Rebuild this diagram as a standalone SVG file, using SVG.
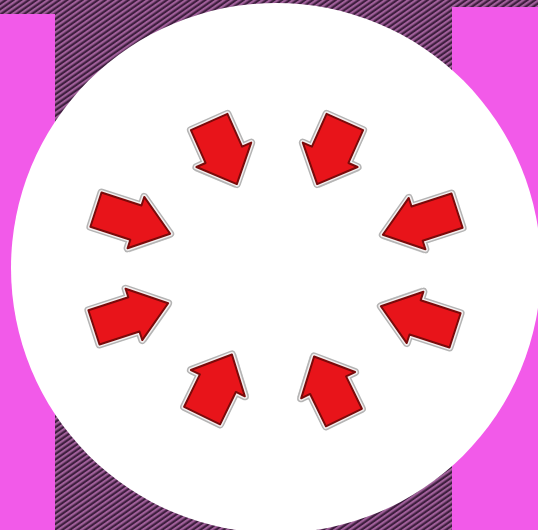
<svg xmlns="http://www.w3.org/2000/svg" xmlns:xlink="http://www.w3.org/1999/xlink" width="538" height="530" viewBox="0 0 538 530">
  <style>
    .pink { fill: #f25ae9; }
    .shadow { fill: #9a9a9a; opacity: 0.45; }
    .bevel { stroke: #b4b4b4; fill: #b4b4b4; stroke-width: 8; stroke-linejoin: round; }
    .rim { stroke: #f4f0f0; fill: #f4f0f0; stroke-width: 5; stroke-linejoin: round; }
    .body { fill: #e8141a; stroke: #7a0a0a; stroke-width: 2; stroke-linejoin: round; }
  </style>
  <defs>
    <pattern id="stripes" width="4.4" height="10" patternUnits="userSpaceOnUse" patternTransform="rotate(55)">
      <rect width="4.4" height="10" fill="#3e1e3e"/>
      <rect width="2.2" height="10" fill="#a0609a"/>
    </pattern>
    <path id="shapeSide" d="M -40 -18 L 2 -18 L 2 -27 L 38 0 L 2 27 L 2 18 L -40 18 Z"/>
    <path id="shapeVert" d="M -34 -20 L 2 -20 L 2 -30 L 34 0 L 2 30 L 2 20 L -34 20 Z"/>
    <g id="arrowSide">
      <use xlink:href="#shapeSide" class="shadow" transform="translate(2.5,3.5)"/>
      <use xlink:href="#shapeSide" class="bevel"/>
      <use xlink:href="#shapeSide" class="rim"/>
      <use xlink:href="#shapeSide" class="body"/>
    </g>
    <g id="arrowVert">
      <use xlink:href="#shapeVert" class="shadow" transform="translate(2.5,3.5)"/>
      <use xlink:href="#shapeVert" class="bevel"/>
      <use xlink:href="#shapeVert" class="rim"/>
      <use xlink:href="#shapeVert" class="body"/>
    </g>
  </defs>

  <rect id="background" x="0" y="0" width="538" height="530" fill="url(#stripes)"/>
  <rect id="bar-left" class="pink" x="0" y="14" width="55" height="516"/>
  <rect id="bar-right" class="pink" x="452" y="7" width="86" height="523"/>
  <circle id="disc" cx="276" cy="268" r="265" fill="#ffffff"/>

  <g id="arrows">
    <g id="arrow-top-left" transform="translate(223,153) rotate(66)"><use xlink:href="#arrowVert"/></g>
    <g id="arrow-top-right" transform="translate(331,153) rotate(114) scale(1,-1)"><use xlink:href="#arrowVert"/></g>
    <g id="arrow-left-upper" transform="translate(134,222) rotate(18)"><use xlink:href="#arrowSide"/></g>
    <g id="arrow-right-upper" transform="translate(419,223) rotate(162) scale(1,-1)"><use xlink:href="#arrowSide"/></g>
    <g id="arrow-left-lower" transform="translate(132,315) rotate(-18)"><use xlink:href="#arrowSide"/></g>
    <g id="arrow-right-lower" transform="translate(417,318) rotate(198)"><use xlink:href="#arrowSide"/></g>
    <g id="arrow-bottom-left" transform="translate(217,385) rotate(-64)"><use xlink:href="#arrowVert"/></g>
    <g id="arrow-bottom-right" transform="translate(329,387) rotate(-116) scale(1,-1)"><use xlink:href="#arrowVert"/></g>
  </g>
</svg>
